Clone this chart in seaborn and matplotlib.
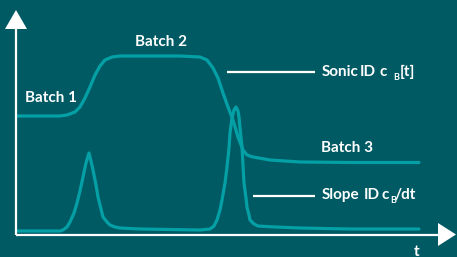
import matplotlib
matplotlib.use("Agg")
import matplotlib.pyplot as plt
from matplotlib.patches import Polygon
import seaborn as sns
import pandas as pd

# ---- data (pixel-based time / signal coordinates) ----
sonic_t = [17, 40, 60, 67, 75, 80, 85, 90, 95, 100, 105, 112, 120, 130, 150, 180,
           200, 207, 213, 218, 223, 228, 233, 238, 243, 247, 253, 270, 300, 350, 419]
sonic_v = [116, 116, 116, 115, 112, 107, 98, 87, 75, 66, 60, 57, 56, 56, 56, 56,
           57, 60, 68, 78, 93, 107, 120, 137, 150, 155, 157, 160, 162, 162.5, 162.5]

slope_t = [17, 40, 60, 63, 67, 70, 74, 77, 80, 83, 86, 89, 91, 93, 96, 98, 101, 103,
           107, 110, 115, 120, 140, 170, 200, 210, 214, 217, 220, 222, 225, 227, 229,
           230, 232, 234, 236, 238, 239, 240, 242, 243, 244, 246, 247, 249, 250, 254,
           258, 275, 300, 350, 419]
slope_v = [231, 231, 231, 230, 227, 222, 213, 203, 191, 177, 163, 153, 161, 170, 185,
           197, 209, 217, 222, 225, 227, 228, 229, 229.5, 230, 229, 226, 220, 210, 200,
           183, 167, 148, 133, 118, 110, 107, 111, 117, 128, 147, 165, 183, 198, 207,
           215, 220, 224, 226, 227, 228, 229, 229]

batch_labels = ["Batch 1", "Batch 2", "Batch 3"]
batch_x = [25, 135, 321]
batch_y = [102, 46, 152]

sonic_words = ["Sonic", "ID", "c", "B", "[t]"]
sonic_word_x = [322, 360, 379, 393, 400]
slope_words = ["Slope", "ID", "c", "B", "/dt"]
slope_word_x = [322, 364, 382, 390, 395]

BG = "#005a63"
TEAL = "#04a0a6"
WHITE = "white"
FONT = "Lato"

sns.set_theme(style="white")
plt.rcParams["font.family"] = [FONT, "DejaVu Sans"]

fig = plt.figure(figsize=(4.57, 2.57), dpi=100, facecolor=BG)
ax = fig.add_axes([0, 0, 1, 1])
ax.set_facecolor(BG)
ax.set_xlim(0, 457)
ax.set_ylim(257, 0)
ax.axis("off")

sonic = pd.DataFrame({"t": sonic_t, "v": sonic_v})
slope = pd.DataFrame({"t": slope_t, "v": slope_v})
sns.lineplot(data=sonic, x="t", y="v", ax=ax, color=TEAL, lw=2.3,
             estimator=None, sort=False, zorder=3)
sns.lineplot(data=slope, x="t", y="v", ax=ax, color=TEAL, lw=2.3,
             estimator=None, sort=False, zorder=3)

# axes with arrowheads
ax.plot([16, 16], [235, 28], color=WHITE, lw=1.6, solid_capstyle="butt", zorder=4)
ax.plot([16, 440], [235, 235], color=WHITE, lw=1.6, solid_capstyle="butt", zorder=4)
ax.add_patch(Polygon([[5, 29], [27, 29], [16, 10]], closed=True, color=WHITE, lw=0, zorder=5))
ax.add_patch(Polygon([[438, 223], [438, 246], [456, 234.5]], closed=True, color=WHITE, lw=0, zorder=5))

# label leader lines
ax.plot([227, 315], [72, 72], color=WHITE, lw=1.6, solid_capstyle="butt", zorder=4)
ax.plot([253, 315], [196, 196], color=WHITE, lw=1.6, solid_capstyle="butt", zorder=4)

FS = 11
SUB = 6.5


def label(x, y, s, size=FS):
    ax.text(x, y, s, color=WHITE, fontsize=size, fontweight="bold",
            ha="left", va="baseline")


for lab, x, y in zip(batch_labels, batch_x, batch_y):
    label(x, y, lab)

label(414, 255.5, "t")

for w, x in zip(sonic_words, sonic_word_x):
    if w == "B":
        label(x, 80, w, SUB)
    else:
        label(x, 76, w)

for w, x in zip(slope_words, slope_word_x):
    if w == "B":
        label(x, 203, w, SUB)
    else:
        label(x, 199, w)

fig.savefig("out.png", dpi=100, facecolor=BG)
